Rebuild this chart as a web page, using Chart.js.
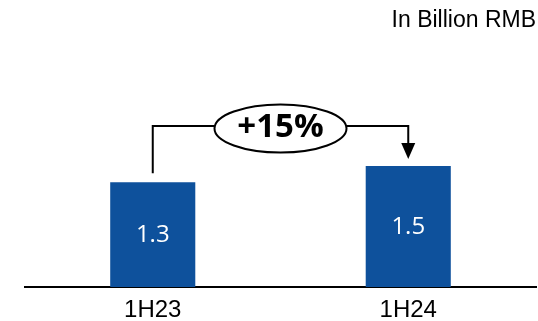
<!DOCTYPE html>
<html>
<head>
<meta charset="utf-8">
<script src="https://cdn.jsdelivr.net/npm/chart.js@4/dist/chart.umd.min.js"></script>
<style>
  html, body { margin: 0; padding: 0; background: #fff; }
  #wrap { width: 538px; height: 321px; }
</style>
</head>
<body>
<div id="wrap"><canvas id="c" width="538" height="321"></canvas></div>
<script>
// Half-year revenue, billion RMB
const periods = ['1H23', '1H24'];
const revenue = [1.3, 1.5];
const unitNote = 'In Billion RMB';
const growthLabel = '+15%';

const barBlue = '#0E519C';

// Value labels inside the bars plus the growth bracket between them
const annotate = {
  id: 'annotate',
  afterDatasetsDraw(chart) {
    const ctx = chart.ctx;
    const bars = chart.getDatasetMeta(0).data;
    const values = chart.data.datasets[0].data;

    ctx.save();
    ctx.fillStyle = '#ffffff';
    ctx.font = '24px "Open Sans"';
    ctx.textAlign = 'center';
    ctx.textBaseline = 'middle';
    bars.forEach((bar, i) => {
      ctx.fillText(values[i].toFixed(1), bar.x, (bar.y + bar.base) / 2 + 1);
    });
    ctx.restore();

    const a = bars[0], b = bars[1];
    const lineY = b.y - 40;
    const cx = (a.x + b.x) / 2;
    const cy = lineY + 2.5;

    ctx.save();
    ctx.strokeStyle = '#000';
    ctx.lineWidth = 2;
    ctx.beginPath();
    ctx.moveTo(a.x, a.y - 9);
    ctx.lineTo(a.x, lineY);
    ctx.lineTo(b.x, lineY);
    ctx.lineTo(b.x, b.y - 22);
    ctx.stroke();

    // arrow head
    ctx.fillStyle = '#000';
    ctx.beginPath();
    ctx.moveTo(b.x - 7, b.y - 23);
    ctx.lineTo(b.x + 7, b.y - 23);
    ctx.lineTo(b.x, b.y - 7);
    ctx.closePath();
    ctx.fill();

    // growth bubble
    ctx.beginPath();
    ctx.ellipse(cx, cy, 66, 24, 0, 0, Math.PI * 2);
    ctx.fillStyle = '#fff';
    ctx.fill();
    ctx.stroke();

    ctx.fillStyle = '#000';
    ctx.font = 'bold 33px "Open Sans"';
    ctx.textAlign = 'center';
    ctx.textBaseline = 'middle';
    ctx.fillText(growthLabel, cx, cy - 1);
    ctx.restore();
  }
};

new Chart(document.getElementById('c'), {
  type: 'bar',
  data: {
    labels: periods,
    datasets: [{
      data: revenue,
      backgroundColor: barBlue,
      borderWidth: 0,
      barPercentage: 0.333,
      categoryPercentage: 1.0
    }]
  },
  options: {
    responsive: false,
    animation: false,
    devicePixelRatio: 1,
    layout: { padding: { left: 25, right: 2, top: 0, bottom: 0 } },
    plugins: {
      legend: { display: false },
      tooltip: { enabled: false },
      title: {
        display: true,
        text: unitNote,
        align: 'end',
        color: '#000',
        font: { family: '"Liberation Sans", Arial, sans-serif', size: 23, weight: 'normal' },
        padding: { top: 7, bottom: 10.4 }
      }
    },
    scales: {
      x: {
        grid: { display: false, drawTicks: false },
        border: { display: true, color: '#000', width: 2 },
        ticks: {
          color: '#000',
          padding: 11,
          font: { family: '"Liberation Sans", Arial, sans-serif', size: 24, lineHeight: 1.0 }
        },
        afterFit(scale) { scale.height = 34; }
      },
      y: {
        display: false,
        min: 0,
        max: 3
      }
    }
  },
  plugins: [annotate]
});
</script>
</body>
</html>
